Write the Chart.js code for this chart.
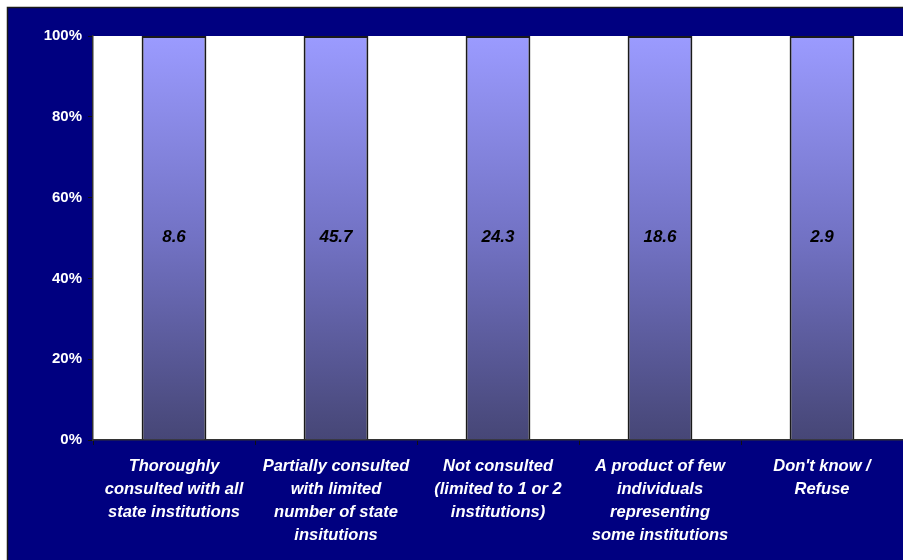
<!DOCTYPE html>
<html>
<head>
<meta charset="utf-8">
<script src="https://cdn.jsdelivr.net/npm/chart.js@4.4.1/dist/chart.umd.min.js"></script>
<style>
  html, body { margin: 0; padding: 0; background: #ffffff; }
  #wrap { position: relative; width: 903px; height: 560px; }
</style>
</head>
<body>
<div id="wrap"><canvas id="chart" width="903" height="560"></canvas></div>
<script>
  // answers to the consultation question, share of respondents (%)
  var categories = [
    ['Thoroughly', 'consulted with all', 'state institutions'],
    ['Partially consulted', 'with limited', 'number of state', 'insitutions'],
    ['Not consulted', '(limited to 1 or 2', 'institutions)'],
    ['A product of few', 'individuals', 'representing', 'some institutions'],
    ["Don't know /", 'Refuse']
  ];
  var responses = [8.6, 45.7, 24.3, 18.6, 2.9];
  var yTicks = [0, 20, 40, 60, 80, 100];

  // 100% stacked: each column is scaled against its own category total
  var seriesList = [responses];
  var categoryTotals = responses.map(function (v, i) {
    return seriesList.reduce(function (sum, s) { return sum + s[i]; }, 0);
  });
  var shares = responses.map(function (v, i) { return v / categoryTotals[i] * 100; });

  var FONT = 'Arial, "Liberation Sans", sans-serif';

  // navy frame behind everything, white plot area
  var framePlugin = {
    id: 'frame',
    beforeDraw: function (chart) {
      var ctx = chart.ctx, a = chart.chartArea;
      ctx.save();
      ctx.fillStyle = '#ffffff';
      ctx.fillRect(0, 0, chart.width, chart.height);
      ctx.fillStyle = '#000080';
      ctx.fillRect(7, 7, chart.width - 7, chart.height - 7);
      ctx.strokeStyle = '#1a1a1a';
      ctx.lineWidth = 1.5;
      ctx.beginPath();
      ctx.moveTo(7.5, chart.height);
      ctx.lineTo(7.5, 7.5);
      ctx.lineTo(chart.width, 7.5);
      ctx.stroke();
      ctx.fillStyle = '#ffffff';
      ctx.fillRect(a.left, a.top, a.right - a.left, a.bottom - a.top);
      ctx.restore();
    }
  };

  // value printed in the middle of each column
  var valueLabels = {
    id: 'valueLabels',
    afterDatasetsDraw: function (chart) {
      var ctx = chart.ctx;
      var meta = chart.getDatasetMeta(0);
      ctx.save();
      ctx.font = 'italic bold 17px ' + FONT;
      ctx.fillStyle = '#000000';
      ctx.textAlign = 'center';
      ctx.textBaseline = 'middle';
      meta.data.forEach(function (bar, i) {
        var mid = (bar.y + bar.base) / 2;
        ctx.fillText(responses[i].toFixed(1), bar.x, mid);
      });
      ctx.restore();
    }
  };

  function barGradient(context) {
    var area = context.chart.chartArea;
    if (!area) return '#9999ff';
    var g = context.chart.ctx.createLinearGradient(0, area.top, 0, area.bottom);
    g.addColorStop(0, '#9b9bff');
    g.addColorStop(0.5, '#7272c4');
    g.addColorStop(1, '#464676');
    return g;
  }

  new Chart(document.getElementById('chart'), {
    type: 'bar',
    data: {
      labels: categories,
      datasets: [{
        data: shares,
        backgroundColor: barGradient,
        borderColor: '#1a1a1a',
        borderWidth: 2,
        barPercentage: 0.4,
        categoryPercentage: 1.0
      }]
    },
    options: {
      responsive: false,
      animation: false,
      layout: { padding: { top: 36, right: 0, left: 0, bottom: 0 } },
      plugins: {
        legend: { display: false },
        tooltip: { enabled: false }
      },
      scales: {
        x: {
          stacked: true,
          afterFit: function (scale) { scale.height = 120; },
          border: { color: '#333333', width: 1.5 },
          grid: {
            offset: true,
            drawOnChartArea: false,
            color: '#111111',
            tickLength: 5
          },
          ticks: {
            color: '#ffffff',
            font: { family: FONT, size: 16.5, weight: 'bold', style: 'italic', lineHeight: '23px' },
            maxRotation: 0,
            autoSkip: false,
            padding: 10
          }
        },
        y: {
          stacked: true,
          min: 0,
          max: 100,
          afterFit: function (scale) { scale.width = 93; },
          afterBuildTicks: function (scale) {
            scale.ticks = yTicks.map(function (v) { return { value: v }; });
          },
          border: { color: '#333333', width: 1.5 },
          grid: {
            drawOnChartArea: false,
            color: '#111111',
            tickLength: 5
          },
          ticks: {
            color: '#ffffff',
            font: { family: FONT, size: 15, weight: 'bold' },
            padding: 6,
            callback: function (v) { return v + '%'; }
          }
        }
      }
    },
    plugins: [framePlugin, valueLabels]
  });
</script>
</body>
</html>
